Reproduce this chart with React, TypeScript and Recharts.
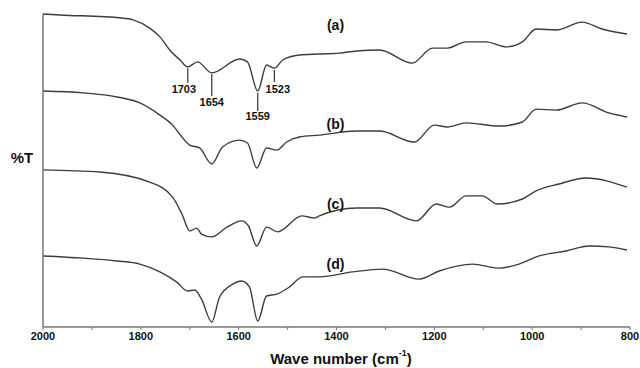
import React from "react"
import { LineChart, Line, XAxis, YAxis, ReferenceLine, ReferenceDot } from "recharts"

// wavenumber (cm-1) vs. relative %T, traces offset vertically
const traceA = [
  { w: 2000, t: 100 }, { w: 1965, t: 99.7 }, { w: 1839, t: 98.7 }, { w: 1816, t: 98.1 },
  { w: 1782, t: 95.5 }, { w: 1761, t: 92.7 }, { w: 1741, t: 88.5 }, { w: 1720, t: 85.3 },
  { w: 1704, t: 83.1 }, { w: 1684, t: 84.7 }, { w: 1655, t: 81.2 }, { w: 1598, t: 85.6 },
  { w: 1582, t: 84.7 }, { w: 1561, t: 75.4 }, { w: 1543, t: 83.7 }, { w: 1527, t: 82.7 },
  { w: 1510, t: 85.3 }, { w: 1476, t: 86.9 }, { w: 1435, t: 87.2 }, { w: 1394, t: 87.5 },
  { w: 1359, t: 88.2 }, { w: 1312, t: 88.5 }, { w: 1245, t: 84.3 }, { w: 1204, t: 89.1 },
  { w: 1173, t: 89.1 }, { w: 1135, t: 91.1 }, { w: 1094, t: 91.1 }, { w: 1053, t: 89.5 },
  { w: 1020, t: 91.1 }, { w: 992, t: 95.2 }, { w: 951, t: 94.9 }, { w: 898, t: 97.4 },
  { w: 857, t: 95.2 }, { w: 806, t: 93.6 },
]

const traceB = [
  { w: 2000, t: 75.4 }, { w: 1918, t: 74.8 }, { w: 1849, t: 73.5 }, { w: 1802, t: 71.6 },
  { w: 1761, t: 67.7 }, { w: 1735, t: 64.5 }, { w: 1716, t: 60.7 }, { w: 1700, t: 58.1 },
  { w: 1680, t: 57.2 }, { w: 1655, t: 52.1 }, { w: 1633, t: 57.5 }, { w: 1598, t: 59.7 },
  { w: 1582, t: 58.8 }, { w: 1563, t: 50.8 }, { w: 1543, t: 57.2 }, { w: 1522, t: 56.5 },
  { w: 1502, t: 59.1 }, { w: 1476, t: 60.7 }, { w: 1435, t: 61.3 }, { w: 1359, t: 62.6 },
  { w: 1312, t: 62.6 }, { w: 1241, t: 59.1 }, { w: 1200, t: 64.5 }, { w: 1173, t: 63.9 },
  { w: 1135, t: 65.2 }, { w: 1067, t: 64.2 }, { w: 1020, t: 65.5 }, { w: 992, t: 69.6 },
  { w: 951, t: 69.3 }, { w: 898, t: 71.6 }, { w: 843, t: 68.4 }, { w: 806, t: 67.1 },
]

const traceC = [
  { w: 2000, t: 50.2 }, { w: 1884, t: 49.5 }, { w: 1782, t: 46.3 }, { w: 1735, t: 41.5 },
  { w: 1716, t: 36.1 }, { w: 1700, t: 30.7 }, { w: 1686, t: 31.6 }, { w: 1676, t: 29.7 },
  { w: 1655, t: 28.8 }, { w: 1624, t: 31.9 }, { w: 1594, t: 33.9 }, { w: 1580, t: 32.3 },
  { w: 1563, t: 25.9 }, { w: 1543, t: 31.9 }, { w: 1520, t: 30.4 }, { w: 1471, t: 35.5 },
  { w: 1445, t: 34.8 }, { w: 1435, t: 35.5 }, { w: 1359, t: 38.0 }, { w: 1312, t: 38.0 },
  { w: 1237, t: 33.9 }, { w: 1196, t: 39.3 }, { w: 1169, t: 38.3 }, { w: 1135, t: 41.9 },
  { w: 1102, t: 41.9 }, { w: 1071, t: 39.3 }, { w: 1020, t: 40.9 }, { w: 992, t: 43.5 },
  { w: 945, t: 45.7 }, { w: 890, t: 47.6 }, { w: 806, t: 44.7 },
]

const traceD = [
  { w: 2000, t: 22.7 }, { w: 1918, t: 22.0 }, { w: 1849, t: 21.1 }, { w: 1802, t: 20.1 },
  { w: 1761, t: 17.6 }, { w: 1727, t: 14.4 }, { w: 1704, t: 11.5 }, { w: 1690, t: 11.8 },
  { w: 1676, t: 8.9 }, { w: 1655, t: 1.6 }, { w: 1639, t: 9.6 }, { w: 1612, t: 13.7 },
  { w: 1594, t: 14.7 }, { w: 1578, t: 12.8 }, { w: 1561, t: 1.9 }, { w: 1543, t: 9.9 },
  { w: 1522, t: 10.5 }, { w: 1496, t: 12.8 }, { w: 1469, t: 16.0 }, { w: 1435, t: 16.0 },
  { w: 1367, t: 17.6 }, { w: 1306, t: 18.5 }, { w: 1231, t: 15.3 }, { w: 1190, t: 17.9 },
  { w: 1122, t: 20.1 }, { w: 1067, t: 18.8 }, { w: 1027, t: 20.1 }, { w: 986, t: 22.7 },
  { w: 931, t: 24.3 }, { w: 884, t: 25.9 }, { w: 843, t: 25.6 }, { w: 806, t: 24.6 },
]

// peak markers on trace (a)
const peaks = [
  { label: "1703", w: 1704, top: 82.7, bottom: 78.0, labelW: 1712, labelT: 76.0 },
  { label: "1654", w: 1655, top: 80.8, bottom: 73.8, labelW: 1655, labelT: 71.9 },
  { label: "1559", w: 1561, top: 74.8, bottom: 69.0, labelW: 1561, labelT: 67.4 },
  { label: "1523", w: 1527, top: 82.1, bottom: 78.3, labelW: 1520, labelT: 76.0 },
]

const traceLabels = [
  { label: "(a)", w: 1402, t: 96.5 },
  { label: "(b)", w: 1402, t: 64.9 },
  { label: "(c)", w: 1402, t: 39.3 },
  { label: "(d)", w: 1402, t: 20.1 },
]

const xTicks = [2000, 1900, 1800, 1700, 1600, 1500, 1400, 1300, 1200, 1100, 1000, 900, 800]

const font = "Arial, 'Liberation Sans', sans-serif"
const lineColor = "#3c3c3c"
const series = [traceA, traceB, traceC, traceD]

const textShape = (text: string, size: number) => (props: any) => (
  <text
    x={props.cx}
    y={props.cy}
    textAnchor="middle"
    dominantBaseline="central"
    fontFamily={font}
    fontWeight="bold"
    fontSize={size}
    fill="#111"
  >
    {text}
  </text>
)

export default function App() {
  return (
    <div style={{ position: "absolute", left: 0, top: 0, background: "#fff" }}>
      <LineChart width={640} height={368} margin={{ top: 14, right: 10, bottom: 0, left: 0 }}>
        <XAxis
          dataKey="w"
          type="number"
          domain={[800, 2000]}
          reversed
          ticks={xTicks}
          interval={0}
          height={41}
          tickSize={3}
          tickFormatter={(v: number) => (v % 200 === 0 ? String(v) : "")}
          tick={{ fontFamily: font, fontWeight: "bold", fontSize: 11, fill: "#111" }}
          stroke="#777"
          axisLine={{ stroke: "#777", strokeWidth: 1.5 }}
          label={{
            content: () => (
              <text
                x={341}
                y={358}
                textAnchor="middle"
                dominantBaseline="central"
                fontFamily={font}
                fontWeight="bold"
                fontSize={15}
                fill="#111"
              >
                Wave number (cm
                <tspan fontSize={9} dy={-5}>-1</tspan>
                <tspan dy={5}>)</tspan>
              </text>
            ),
          }}
        />
        <YAxis
          type="number"
          domain={[0, 100]}
          width={43}
          tick={false}
          tickLine={false}
          axisLine={{ stroke: "#777", strokeWidth: 1.5 }}
          label={{
            content: () => (
              <text
                x={22}
                y={157}
                textAnchor="middle"
                dominantBaseline="central"
                fontFamily={font}
                fontWeight="bold"
                fontSize={15}
                fill="#111"
              >
                %T
              </text>
            ),
          }}
        />
        {series.map((d, i) => (
          <Line
            key={i}
            data={d}
            dataKey="t"
            type="monotone"
            stroke={lineColor}
            strokeWidth={1.4}
            dot={false}
            isAnimationActive={false}
          />
        ))}
        {peaks.map((p) => (
          <ReferenceLine
            key={"l" + p.label}
            segment={[{ x: p.w, y: p.top }, { x: p.w, y: p.bottom }]}
            stroke="#333"
            strokeWidth={1.2}
          />
        ))}
        {peaks.map((p) => (
          <ReferenceDot key={"t" + p.label} x={p.labelW} y={p.labelT} r={0} shape={textShape(p.label, 11)} />
        ))}
        {traceLabels.map((p) => (
          <ReferenceDot key={p.label} x={p.w} y={p.t} r={0} shape={textShape(p.label, 14)} />
        ))}
      </LineChart>
    </div>
  )
}
